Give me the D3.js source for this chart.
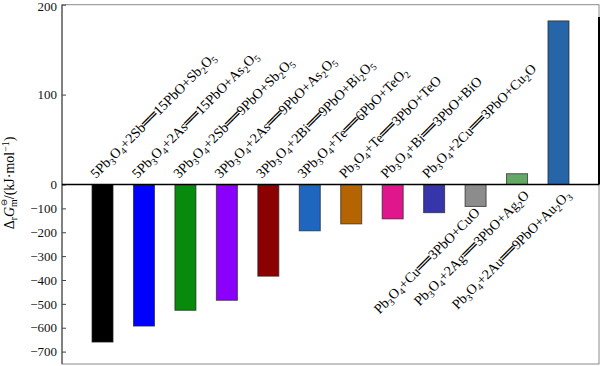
<!DOCTYPE html>
<html><head><meta charset="utf-8">
<script src="https://cdn.jsdelivr.net/npm/d3@7"></script>
<style>
html,body{margin:0;padding:0;background:#fff;}
svg{display:block;}
</style></head>
<body>
<svg id="chart" width="600" height="366"></svg>
<script>
// ---- data ----
const categories = [
  "5Pb_3O_4+2Sb==15PbO+Sb_2O_5",
  "5Pb_3O_4+2As==15PbO+As_2O_5",
  "3Pb_3O_4+2Sb==9PbO+Sb_2O_5",
  "3Pb_3O_4+2As==9PbO+As_2O_5",
  "3Pb_3O_4+2Bi==9PbO+Bi_2O_5",
  "3Pb_3O_4+Te==6PbO+TeO_2",
  "Pb_3O_4+Te==3PbO+TeO",
  "Pb_3O_4+Bi==3PbO+BiO",
  "Pb_3O_4+2Cu==3PbO+Cu_2O",
  "Pb_3O_4+Cu==3PbO+CuO",
  "Pb_3O_4+2Ag==3PbO+Ag_2O",
  "Pb_3O_4+2Au==9PbO+Au_2O_3"
];
const values = [-660, -593, -527, -485, -384, -194, -165, -144, -118, -92, 12, 182];
const colors = ["#000000","#0000ff","#088a0c","#8a00fa","#8b0000","#1e66be",
                "#b46400","#e0168c","#3636aa","#8c8c8c","#63a863","#2565a8"];
const yTicks = [200, 100, 0, -100, -200, -300, -400, -500, -600, -700];

// ---- layout ----
const svg = d3.select("#chart");
const L = 62, R = 599, T = 4.7, B = 364;
const x = d3.scaleBand().domain(d3.range(categories.length))
  .range([L, R]).paddingInner(0.493).paddingOuter(0.724);
const y = d3.scaleLinear().domain([-700, 0, 200]).range([351.6, 184.5, 4.7]);
const serif = "'Liberation Serif','Times New Roman',serif";

// frame
svg.append("rect").attr("x", L).attr("y", T).attr("width", R - L).attr("height", B - T)
  .attr("fill", "none").attr("stroke", "#8a8a8a").attr("stroke-width", 1);
svg.append("line").attr("x1", L).attr("x2", L).attr("y1", T).attr("y2", B)
  .attr("stroke", "#555").attr("stroke-width", 1.2);
svg.append("line").attr("x1", R).attr("x2", R).attr("y1", 17).attr("y2", y(0))
  .attr("stroke", "#000").attr("stroke-width", 2);

// y axis
const yAxis = d3.axisLeft(y).tickValues(yTicks).tickSizeInner(-4).tickSizeOuter(0)
  .tickPadding(5).tickFormat(d => d < 0 ? "\u2212" + Math.abs(d) : d);
const ga = svg.append("g").attr("transform", `translate(${L},0)`).call(yAxis);
ga.select(".domain").remove();
ga.selectAll(".tick line").attr("stroke", "#444");
ga.selectAll(".tick text").attr("font-family", serif).attr("font-size", 13).attr("fill", "#111");
ga.selectAll(".tick").filter(d => d === 200).select("text").attr("dy", "0.45em");

// bars
svg.append("g").selectAll("rect").data(values).join("rect")
  .attr("x", (d, i) => x(i))
  .attr("width", x.bandwidth())
  .attr("y", d => Math.min(y(d), y(0)))
  .attr("height", d => Math.abs(y(d) - y(0)))
  .attr("fill", (d, i) => colors[i])
  .attr("stroke", "#222").attr("stroke-opacity", 0.7).attr("stroke-width", 1);

// zero line
svg.append("line").attr("x1", L).attr("x2", R).attr("y1", y(0)).attr("y2", y(0))
  .attr("stroke", "#000").attr("stroke-width", 1.6);

// chemistry text helper
function chem(sel, str) {
  const segs = [];
  for (let k = 0; k < str.length; k++) {
    const c = str[k];
    if (c === "_") { segs.push({t: str[k + 1], sub: true}); k++; }
    else if (c === "=" && str[k + 1] === "=") { segs.push({t: "\u2550\u2550", eq: true}); k++; }
    else {
      const last = segs[segs.length - 1];
      if (last && !last.sub && !last.eq) last.t += c; else segs.push({t: c});
    }
  }
  let shifted = false;
  segs.forEach(s => {
    const ts = sel.append("tspan").text(s.t);
    if (s.sub) { ts.attr("font-size", "70%").attr("dy", shifted ? 0 : 3); shifted = true; }
    else {
      if (shifted) { ts.attr("dy", -3); shifted = false; }
      if (s.eq) ts.attr("font-family", "'DejaVu Sans',sans-serif").attr("font-size", "105%");
    }
  });
}

// labels
const lab = svg.append("g").attr("font-family", serif).attr("font-size", 14).attr("fill", "#000");
categories.forEach((c, i) => {
  const cx = x(i) + x.bandwidth() / 2;
  let ax, ay, anchor;
  if (i < 9) { ax = cx - 6.5; ay = y(0) - 5.5; anchor = "start"; }
  else if (values[i] < 0) { ax = cx + 5; ay = y(values[i]) + 7; anchor = "end"; }
  else { ax = cx + 13; ay = y(0) + 11.5; anchor = "end"; }
  const t = lab.append("text").attr("text-anchor", anchor)
    .attr("transform", `translate(${ax},${ay}) rotate(-45)`);
  chem(t, c);
});

// y title
const yt = svg.append("text").attr("font-family", serif).attr("font-size", 14)
  .attr("text-anchor", "middle").attr("transform", "translate(14,183) rotate(-90)");
yt.append("tspan").text("\u0394");
yt.append("tspan").text("r").attr("font-size", "70%").attr("dy", 3);
yt.append("tspan").text("G").attr("font-style", "italic").attr("dy", -3);
yt.append("tspan").text("m").attr("font-size", "70%").attr("dy", 3);
yt.append("tspan").text("\u2296").attr("font-size", "60%").attr("font-family", "'DejaVu Sans',sans-serif").attr("dx", -7).attr("dy", -10);
yt.append("tspan").text("/(kJ\u00b7mol").attr("dy", 7);
yt.append("tspan").text("\u22121").attr("font-size", "70%").attr("dy", -5);
yt.append("tspan").text(")").attr("dy", 5);
</script>
</body></html>
